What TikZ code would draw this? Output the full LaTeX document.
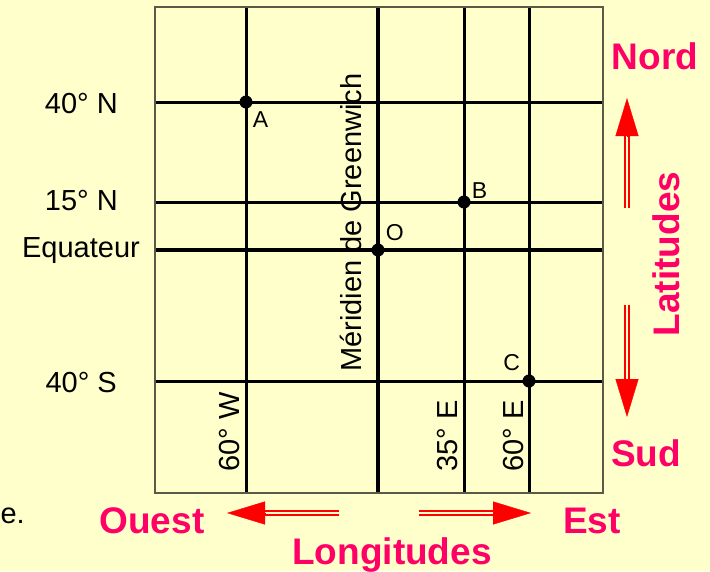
\documentclass[tikz,border=0pt]{standalone}
\usepackage{fontspec}
\setmainfont{Liberation Sans}
\usetikzlibrary{arrows.meta, positioning}
\definecolor{paper}{RGB}{255,255,204}
\definecolor{pinkred}{RGB}{255,0,102}
\definecolor{arrowred}{RGB}{255,0,0}
\definecolor{framegray}{RGB}{90,90,72}
\tikzset{
  lbl/.style={font=\fontsize{29}{31}\selectfont, inner sep=0pt},
  ptlbl/.style={font=\fontsize{23}{25}\selectfont, inner sep=0pt},
  dirlbl/.style={font=\fontsize{37}{40}\selectfont\bfseries, text=pinkred, inner sep=0pt},
  gridline/.style={line width=3pt},
  mainline/.style={line width=4pt},
  gpoint/.style={circle, fill, inner sep=0pt, minimum size=13pt},
  dblshaft/.style={draw=arrowred, line width=1.6pt, double=paper, double distance=2.6pt},
  redhead/.style={draw=arrowred, fill=arrowred, line width=0.4pt, -{Triangle[length=38pt, width=23pt]}}
}
\begin{document}
\begin{tikzpicture}[x=1pt, y=-1pt]
  \fill[paper] (0,0) rectangle (710,571);
  \useasboundingbox (0,0) rectangle (710,571);
  % grid
  \foreach \y in {102,202,381} \draw[gridline] (155,\y) -- (603,\y);
  \draw[mainline] (155,250) -- (603,250);
  \foreach \x in {246,464,529} \draw[gridline] (\x,7) -- (\x,493);
  \draw[mainline] (378,7) -- (378,493);
  \draw[framegray, line width=1.5pt] (155,7) rectangle (603,493);
  % points
  \node[gpoint] (A) at (246,102) {};
  \node[gpoint] (B) at (464,202) {};
  \node[gpoint] (O) at (378,250) {};
  \node[gpoint] (C) at (529,381) {};
  \node[ptlbl, below right=5pt and 2pt of A] (labA) {A};
  \node[ptlbl, above right=-1pt and 3pt of B] (labB) {B};
  \node[ptlbl, above right=4pt and 3pt of O] (labO) {O};
  \node[ptlbl, above left=5pt and 4pt of C] (labC) {C};
  % parallels
  \node[lbl, anchor=base east] (n40) at (118,113) {40° N};
  \node[lbl, anchor=base east] (n15) at (118,210) {15° N};
  \node[lbl, anchor=base east] (eq) at (140,257) {Equateur};
  \node[lbl, anchor=base east] (s40) at (117,392) {40° S};
  \node[lbl, anchor=base east] (cut) at (25,523) {e.};
  % meridians
  \node[lbl, rotate=90, anchor=base west] (green) at (361,372) {Méridien de Greenwich};
  \node[lbl, rotate=90, anchor=base west] (w60) at (239,472) {60° W};
  \node[lbl, rotate=90, anchor=base west] (e35) at (457,472) {35° E};
  \node[lbl, rotate=90, anchor=base west] (e60) at (523,472) {60° E};
  % directions
  \node[dirlbl, anchor=base] (nord) at (655,69) {Nord};
  \node[dirlbl, anchor=base] (sud) at (646,466) {Sud};
  \node[dirlbl, rotate=90] (lat) at (666,254) {Latitudes};
  \node[dirlbl, anchor=base] (ouest) at (152,533) {Ouest};
  \node[dirlbl, anchor=base] (est) at (592,533) {Est};
  \node[dirlbl, anchor=base] (long) at (392,564) {Longitudes};
  % red arrows
  \coordinate (up0) at (627,208);   \coordinate (up1) at (627,136);   \coordinate (up2) at (627,98);
  \coordinate (dn0) at (627,305);   \coordinate (dn1) at (627,379);   \coordinate (dn2) at (627,417);
  \coordinate (lt0) at (339,513);   \coordinate (lt1) at (265,513);   \coordinate (lt2) at (227,513);
  \coordinate (rt0) at (419,513);   \coordinate (rt1) at (493,513);   \coordinate (rt2) at (531,513);
  \draw[dblshaft] (up0) -- (up1);  \draw[redhead] (up1) -- (up2);
  \draw[dblshaft] (dn0) -- (dn1);  \draw[redhead] (dn1) -- (dn2);
  \draw[dblshaft] (lt0) -- (lt1);  \draw[redhead] (lt1) -- (lt2);
  \draw[dblshaft] (rt0) -- (rt1);  \draw[redhead] (rt1) -- (rt2);
\end{tikzpicture}
\end{document}
